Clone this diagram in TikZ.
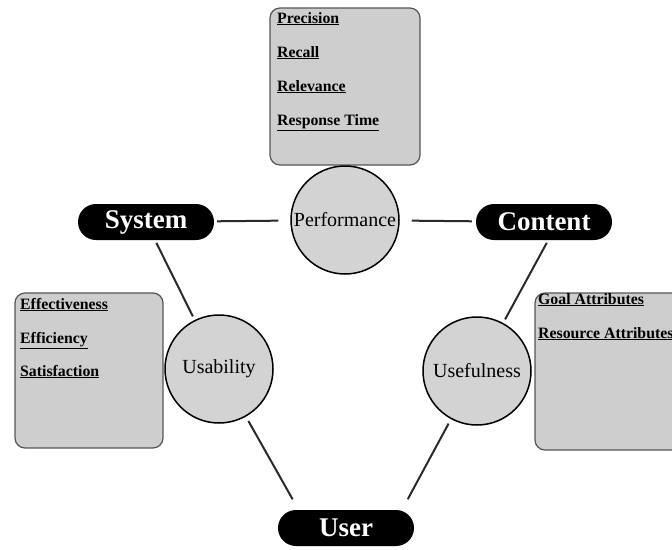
\documentclass[tikz,border=0pt]{standalone}
\usepackage{fontspec}
\setmainfont{Liberation Serif}
\definecolor{panelgray}{HTML}{CECECE}
\definecolor{paneledge}{HTML}{555555}
\definecolor{circgray}{HTML}{D3D3D3}
\definecolor{linkgray}{HTML}{2A2A2A}
\begin{document}
\begin{tikzpicture}[x=1pt,y=-1pt,
  pill/.style={fill=black, text=white, rounded corners=18pt, minimum width=136pt,
    minimum height=36pt, inner sep=0pt, font=\fontsize{27}{27}\selectfont\bfseries},
  aspect/.style={circle, draw=black, line width=1.5pt, fill=circgray, minimum size=108pt,
    inner sep=0pt, font=\fontsize{20}{20}\selectfont},
  panel/.style={draw=paneledge, line width=1.2pt, fill=panelgray, rounded corners=10pt,
    inner sep=0pt},
  item/.style={anchor=base west, inner sep=0pt, font=\fontsize{15.8}{15.8}\selectfont\bfseries},
  link/.style={draw=linkgray, line width=2pt, shorten <=3pt, shorten >=4pt},
  farlink/.style={draw=linkgray, line width=2pt, shorten <=5pt, shorten >=12pt}
]
\useasboundingbox (0,0) rectangle (672,549);
\clip (0,0) rectangle (672,549);

% attribute panels
\node[panel, minimum width=150pt, minimum height=157pt] (perfbox) at (345,86.5) {};
\node[panel, minimum width=148pt, minimum height=155pt] (usabbox) at (89,370.5) {};
\node[panel, minimum width=160pt, minimum height=157pt] (usefbox) at (615,371.5) {};

\node[item] (prec) at (277,23) {\underline{Precision}};
\node[item] (rec)  at (277,57) {\underline{Recall}};
\node[item] (rel)  at (277,91) {\underline{Relevance}};
\node[item] (resp) at (277,125) {\underline{Response Time}};

\node[item] (effe) at (20,309) {\underline{Effectiveness}};
\node[item] (effi) at (20,343) {\underline{Efficiency}};
\node[item] (sati) at (20,376) {\underline{Satisfaction}};

\node[item] (goal) at (538,304) {\underline{Goal Attributes}};
\node[item] (reso) at (538,338) {\underline{Resource Attributes}};

% quality aspects
\node[aspect] (perf) at (345,220) {Performance};
\node[aspect] (usab) at (219,369) {Usability};
\node[aspect] (usef) at (477,371) {Usefulness};

% actors
\node[pill] (sys)  at (146,222) {System};
\node[pill] (cont) at (544,222) {Content};
\node[pill] (user) at (346,528) {User};

% connectors
\draw[link, shorten >=12pt] (sys) -- (perf);
\draw[link, shorten <=12pt] (perf) -- (cont);
\draw[link] (sys) -- (usab);
\draw[link] (cont.-77) -- (usef);
\draw[farlink] (usab) -- (user.159);
\draw[farlink] (usef) -- (user.18);
\end{tikzpicture}
\end{document}
